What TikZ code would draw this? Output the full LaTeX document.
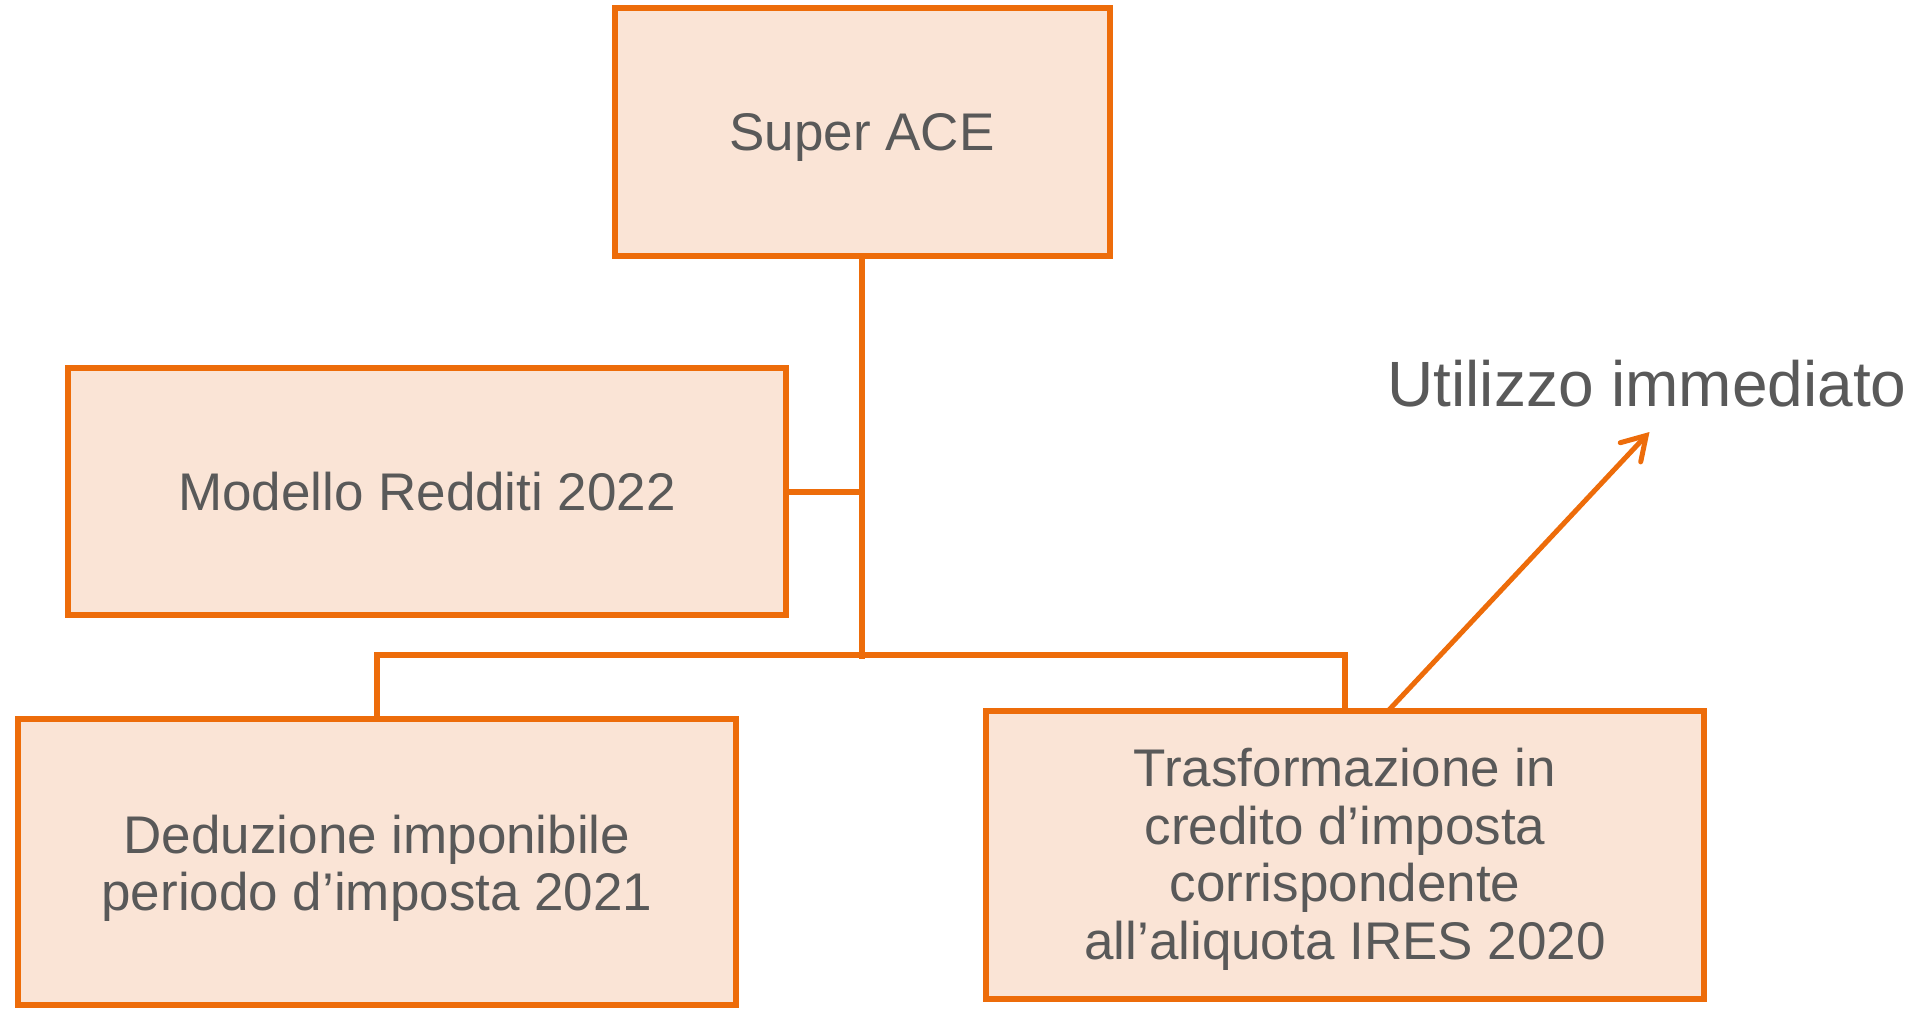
\documentclass[tikz,border=0pt]{standalone}
\usepackage{fontspec}
\setmainfont{Liberation Sans}
\usetikzlibrary{arrows.meta}
\definecolor{borange}{RGB}{237,108,10}
\definecolor{bfill}{RGB}{250,228,214}
\definecolor{tgray}{RGB}{89,89,89}
\begin{document}
\begin{tikzpicture}[x=1pt,y=-1pt,
  box/.style={draw=borange, fill=bfill, line width=6pt, text=tgray, align=center,
    inner sep=0pt, font=\fontsize{53}{57.5}\selectfont},
  conn/.style={draw=borange, line width=6pt},
  arr/.style={draw=borange, line width=5pt, line cap=round,
    -{Straight Barb[length=23pt,width=28pt,line cap=round]}},
  lbl/.style={text=tgray, inner sep=0pt, font=\fontsize{64}{70}\selectfont}
  ]
\useasboundingbox (0,0) rectangle (1930,1009);
\node[box, minimum width=495pt, minimum height=248pt] (ace) at (862,131.6) {\rule{0pt}{48pt}Super ACE};
\node[box, minimum width=718pt, minimum height=247pt] (mod) at (427,491.5) {Modello Redditi 2022};
\node[box, minimum width=718pt, minimum height=285.5pt] (ded) at (377,862) {\rule{0pt}{50.5pt}Deduzione imponibile\\periodo d’imposta 2021};
\node[box, minimum width=718pt, minimum height=288pt] (tra) at (1345,855) {\rule{0pt}{46.5pt}Trasformazione in\\credito d’imposta\\corrispondente\\all’aliquota IRES 2020};
\node[lbl, anchor=base] (util) at (1647,406) {Utilizzo immediato};
\coordinate (bus) at (377,654.5);
\coordinate (astart) at (1388,711);
\coordinate (atip) at (1649.5,432);
\draw[conn] (ace.south) -- ([yshift=-4.5pt]ace.south |- bus);
\draw[conn] (mod.east) -- (mod.east -| ace.south);
\draw[conn] (ded.north) -- (ded.north |- bus) -- (tra.north |- bus) -- (tra.north);
\draw[arr] (astart) -- (atip);
\end{tikzpicture}
\end{document}
